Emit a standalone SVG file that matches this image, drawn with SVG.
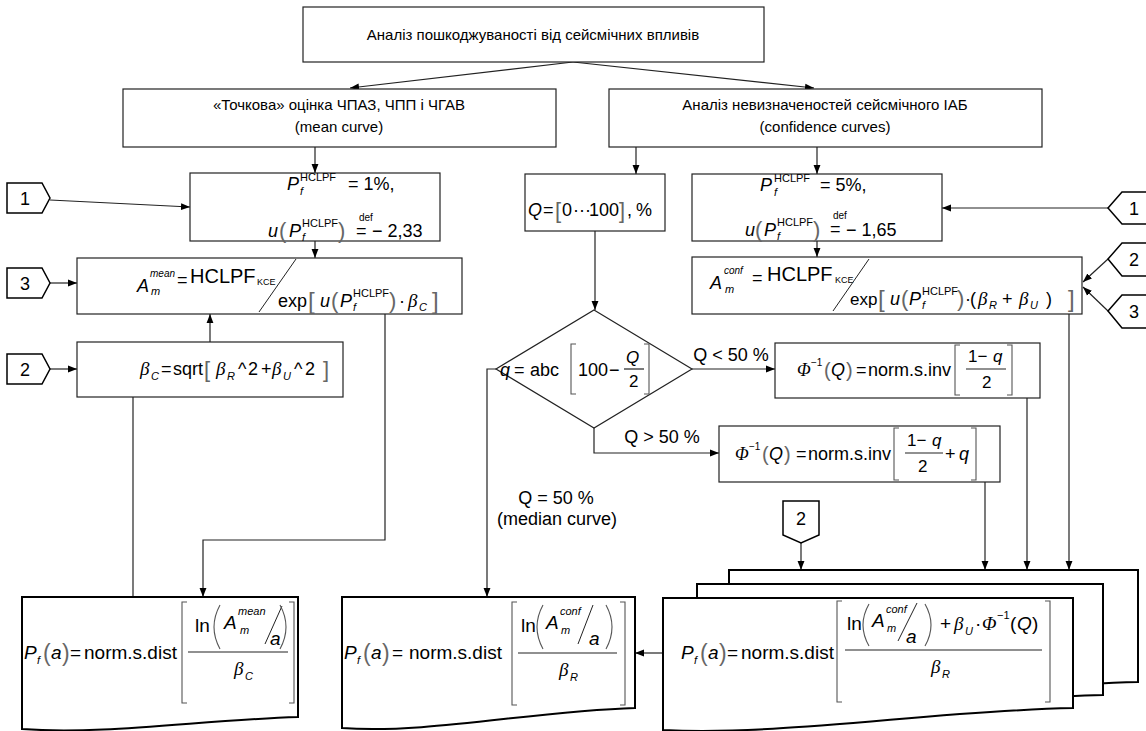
<svg xmlns="http://www.w3.org/2000/svg" width="1146" height="731" viewBox="0 0 1146 731">
<style>
text{font-family:"Liberation Sans",Arial,sans-serif;fill:#000}
.t{font-size:15px}
.lb{font-size:18px}
.m{font-size:18px}
.i{font-style:italic}
.g{font-family:"Liberation Serif","Times New Roman",serif;font-style:italic}
.s{font-size:11px}
.pg{fill:#666}
.box{fill:#fff;stroke:#222;stroke-width:1.2}
.doc{fill:#fff;stroke:#000;stroke-width:2}
.pent{fill:#fff;stroke:#000;stroke-width:1.5}
.cn{fill:none;stroke:#222;stroke-width:1.2}
.br{fill:none;stroke:#555;stroke-width:1.1}
.sl{fill:none;stroke:#222;stroke-width:1}
.fb{stroke:#222;stroke-width:1.2}
</style>
<defs>
<marker id="ah" viewBox="0 0 10 10" refX="10" refY="5" markerWidth="9" markerHeight="9" markerUnits="userSpaceOnUse" orient="auto"><path d="M0,1.2 L10,5 L0,8.8 Z" fill="#000"/></marker>
</defs>

<g id="connectors">
<path class="cn" d="M573,62 L350,88" marker-end="url(#ah)"/>
<path class="cn" d="M573,62 L814,88" marker-end="url(#ah)"/>
<path class="cn" d="M315,147 V173" marker-end="url(#ah)"/>
<path class="cn" d="M315,241 V258" marker-end="url(#ah)"/>
<path class="cn" d="M210,342 V314" marker-end="url(#ah)"/>
<path class="cn" d="M50,200 L190,207" marker-end="url(#ah)"/>
<path class="cn" d="M50,283 H77" marker-end="url(#ah)"/>
<path class="cn" d="M50,369 H77" marker-end="url(#ah)"/>
<path class="cn" d="M385,314 V540 H203 V597" marker-end="url(#ah)"/>
<path class="cn" d="M133,397 V597"/>
<path class="cn" d="M636,147 V174" marker-end="url(#ah)"/>
<path class="cn" d="M817,147 V174" marker-end="url(#ah)"/>
<path class="cn" d="M817,241 V257" marker-end="url(#ah)"/>
<path class="cn" d="M1108,208 H942" marker-end="url(#ah)"/>
<path class="cn" d="M1108,259 L1083,282" marker-end="url(#ah)"/>
<path class="cn" d="M1108,311 L1083,287" marker-end="url(#ah)"/>
<path class="cn" d="M595,231 V310" marker-end="url(#ah)"/>
<path class="cn" d="M692,369 H775" marker-end="url(#ah)"/>
<path class="cn" d="M594,428 V453 H719" marker-end="url(#ah)"/>
<path class="cn" d="M496,369 H487 V597" marker-end="url(#ah)"/>
<path class="cn" d="M801,543 V570" marker-end="url(#ah)"/>
<path class="cn" d="M985,482 V570" marker-end="url(#ah)"/>
<path class="cn" d="M1027,398 V570" marker-end="url(#ah)"/>
<path class="cn" d="M1069,314 V570" marker-end="url(#ah)"/>
<path class="cn" d="M663,653 H635" marker-end="url(#ah)"/>
</g>

<g id="title">
<rect class="box" x="303" y="7" width="461" height="55"/>
<text class="t" x="533" y="40" text-anchor="middle">Аналіз пошкоджуваності від сейсмічних впливів</text>
</g>

<g id="mean-curve">
<rect class="box" x="123" y="89" width="433" height="58"/>
<text class="t" x="339" y="110" text-anchor="middle">«Точкова» оцінка ЧПАЗ, ЧПП і ЧГАВ</text>
<text class="t" x="339" y="132" text-anchor="middle">(mean curve)</text>
</g>

<g id="confidence-curves">
<rect class="box" x="609" y="89" width="433" height="58"/>
<text class="t" x="825" y="110" text-anchor="middle">Аналіз невизначеностей сейсмічного ІАБ</text>
<text class="t" x="825" y="132" text-anchor="middle">(confidence curves)</text>
</g>

<g id="pf-1">
<rect class="box" x="190" y="173" width="250" height="68"/>
<text class="m"><tspan class="i" x="287" y="190">P</tspan><tspan class="s" x="300" y="181">HCLPF</tspan><tspan class="s i" x="300" y="195">f</tspan><tspan x="348" y="190">= 1%,</tspan></text>
<text class="m"><tspan class="i" x="268" y="237">u</tspan><tspan class="pg" font-size="22" x="279" y="238">(</tspan><tspan class="i" x="289" y="237">P</tspan><tspan class="s" x="302" y="227">HCLPF</tspan><tspan class="s i" x="302" y="241">f</tspan><tspan class="pg" font-size="22" x="338" y="238">)</tspan><tspan font-size="10" x="359" y="221">def</tspan><tspan x="356" y="237">=</tspan><tspan x="372" y="237">− 2,33</tspan></text>
</g>

<g id="amean">
<rect class="box" x="77" y="258" width="385" height="56"/>
<text class="m"><tspan class="i" x="137" y="292">A</tspan><tspan font-size="10" class="i" x="150" y="277">mean</tspan><tspan class="s i" x="151" y="295">m</tspan><tspan x="177" y="286">=</tspan><tspan font-size="20" x="190" y="283">HCLPF</tspan><tspan font-size="9" x="257" y="285">KCE</tspan></text>
<path class="sl" d="M296,259 L259,312"/>
<text class="m"><tspan x="278" y="307">exp</tspan><tspan class="pg" font-size="24" x="308" y="309">[</tspan><tspan class="i" x="320" y="307">u</tspan><tspan class="pg" font-size="22" x="331" y="308">(</tspan><tspan class="i" x="340" y="307">P</tspan><tspan class="s" x="353" y="297">HCLPF</tspan><tspan class="s i" x="353" y="311">f</tspan><tspan class="pg" font-size="22" x="389" y="308">)</tspan><tspan x="399" y="307">·</tspan><tspan class="g" font-size="19" x="408" y="307">β</tspan><tspan class="s i" x="419" y="311">C</tspan><tspan class="pg" font-size="24" x="432" y="309">]</tspan></text>
</g>

<g id="beta-c">
<rect class="box" x="77" y="342" width="266" height="55"/>
<text class="m"><tspan class="g" font-size="19" x="140" y="375">β</tspan><tspan class="s i" x="151" y="380">C</tspan><tspan x="161" y="375">=</tspan><tspan x="173" y="375">sqrt</tspan><tspan class="pg" font-size="22" x="204" y="377">[</tspan><tspan class="g" font-size="19" x="216" y="375">β</tspan><tspan class="s i" x="227" y="380">R</tspan><tspan x="238" y="375">^</tspan><tspan x="248" y="375">2</tspan><tspan x="261" y="375">+</tspan><tspan class="g" font-size="19" x="272" y="375">β</tspan><tspan class="s i" x="283" y="380">U</tspan><tspan x="294" y="375">^</tspan><tspan x="305" y="375">2</tspan><tspan class="pg" font-size="22" x="323" y="377">]</tspan></text>
</g>

<g id="q-range">
<rect class="box" x="525" y="174" width="140" height="57"/>
<text font-size="18"><tspan class="i" x="528" y="216">Q</tspan><tspan x="543" y="216">=</tspan><tspan class="pg" font-size="22" x="555" y="218">[</tspan><tspan x="562" y="216">0</tspan><tspan x="573" y="216">···</tspan><tspan x="589" y="216">100</tspan><tspan class="pg" font-size="22" x="619" y="218">]</tspan><tspan x="627" y="216">,</tspan><tspan x="636" y="216">%</tspan></text>
</g>

<g id="decision">
<path class="box" d="M594,310 L692,369 L594,428 L496,369 Z"/>
<text class="m"><tspan class="i" x="500" y="376">q</tspan><tspan x="514" y="376">=</tspan><tspan x="530" y="376">abc</tspan><tspan x="578" y="376">100</tspan><tspan x="609" y="376">−</tspan><tspan class="i" font-size="17" x="626" y="363">Q</tspan><tspan font-size="17" x="629" y="387">2</tspan></text>
<path class="br" d="M576,344 H571 V394 H576 M644,344 H649 V394 H644"/>
<path class="fb" d="M624,369 H644"/>
</g>

<g id="phi-lt50">
<rect class="box" x="775" y="343" width="265" height="55"/>
<text class="m"><tspan class="g" x="797" y="376">Φ</tspan><tspan font-size="10" x="811" y="366">−1</tspan><tspan class="pg" font-size="20" x="824" y="377">(</tspan><tspan class="i" x="831" y="376">Q</tspan><tspan class="pg" font-size="20" x="846" y="377">)</tspan><tspan x="856" y="376">=</tspan><tspan x="868" y="376">norm.s.inv</tspan><tspan font-size="17" x="968" y="362">1−</tspan><tspan class="i" font-size="17" x="993" y="362">q</tspan><tspan font-size="17" x="982" y="388">2</tspan></text>
<path class="br" d="M960,345 H955 V395 H960 M1007,345 H1012 V395 H1007"/>
<path class="fb" d="M966,369 H1006"/>
</g>

<g id="phi-gt50">
<rect class="box" x="719" y="426" width="281" height="56"/>
<text class="m"><tspan class="g" x="735" y="460">Φ</tspan><tspan font-size="10" x="749" y="450">−1</tspan><tspan class="pg" font-size="20" x="762" y="461">(</tspan><tspan class="i" x="769" y="460">Q</tspan><tspan class="pg" font-size="20" x="784" y="461">)</tspan><tspan x="796" y="460">=</tspan><tspan x="808" y="460">norm.s.inv</tspan><tspan font-size="17" x="907" y="446">1−</tspan><tspan class="i" font-size="17" x="932" y="446">q</tspan><tspan font-size="17" x="918" y="472">2</tspan><tspan x="945" y="460">+</tspan><tspan class="i" x="959" y="460">q</tspan></text>
<path class="br" d="M899,428 H894 V480 H899 M971,428 H976 V480 H971"/>
<path class="fb" d="M905,453 H943"/>
</g>

<g id="pf-5">
<rect class="box" x="692" y="174" width="250" height="67"/>
<text class="m"><tspan class="i" x="760" y="191">P</tspan><tspan class="s" x="774" y="182">HCLPF</tspan><tspan class="s i" x="774" y="196">f</tspan><tspan x="820" y="191">= 5%,</tspan></text>
<text class="m"><tspan class="i" x="745" y="236">u</tspan><tspan class="pg" font-size="22" x="755" y="237">(</tspan><tspan class="i" x="764" y="236">P</tspan><tspan class="s" x="777" y="226">HCLPF</tspan><tspan class="s i" x="777" y="240">f</tspan><tspan class="pg" font-size="22" x="813" y="237">)</tspan><tspan font-size="10" x="833" y="219">def</tspan><tspan x="830" y="235">=</tspan><tspan x="846" y="236">− 1,65</tspan></text>
</g>

<g id="aconf">
<rect class="box" x="692" y="257" width="390" height="57"/>
<text class="m"><tspan class="i" x="710" y="289">A</tspan><tspan font-size="10" class="i" x="724" y="274">conf</tspan><tspan class="s i" x="725" y="293">m</tspan><tspan x="752" y="284">=</tspan><tspan font-size="20" x="767" y="281">HCLPF</tspan><tspan font-size="9" x="835" y="283">KCE</tspan></text>
<path class="sl" d="M869,259 L833,311"/>
<text class="m"><tspan font-size="17" x="850" y="305">exp</tspan><tspan class="pg" font-size="24" x="878" y="307">[</tspan><tspan class="i" x="890" y="305">u</tspan><tspan class="pg" font-size="22" x="901" y="306">(</tspan><tspan class="i" x="909" y="305">P</tspan><tspan class="s" x="922" y="295">HCLPF</tspan><tspan class="s i" x="922" y="309">f</tspan><tspan class="pg" font-size="22" x="957" y="306">)</tspan><tspan x="965" y="305">·</tspan><tspan x="970" y="305">(</tspan><tspan class="g" font-size="19" x="978" y="305">β</tspan><tspan class="s i" x="989" y="309">R</tspan><tspan x="1002" y="305">+</tspan><tspan class="g" font-size="19" x="1019" y="305">β</tspan><tspan class="s i" x="1030" y="309">U</tspan><tspan x="1046" y="305">)</tspan><tspan class="pg" font-size="24" x="1068" y="307">]</tspan></text>
</g>

<g id="ref-1-left"><path class="pent" d="M7,183 H42 L50,198 L42,213 H7 Z"/><text class="lb" x="25" y="205" text-anchor="middle">1</text></g>
<g id="ref-3-left"><path class="pent" d="M7,268 H42 L50,283 L42,298 H7 Z"/><text class="lb" x="25" y="290" text-anchor="middle">3</text></g>
<g id="ref-2-left"><path class="pent" d="M7,354 H42 L50,369 L42,384 H7 Z"/><text class="lb" x="25" y="376" text-anchor="middle">2</text></g>
<g id="ref-1-right"><path class="pent" d="M1108,208 L1122,192 H1150 V224 H1122 Z"/><text class="lb" x="1134" y="215" text-anchor="middle">1</text></g>
<g id="ref-2-right"><path class="pent" d="M1108,259 L1122,243 H1150 V276 H1122 Z"/><text class="lb" x="1134" y="266" text-anchor="middle">2</text></g>
<g id="ref-3-right"><path class="pent" d="M1108,311 L1122,295 H1150 V328 H1122 Z"/><text class="lb" x="1134" y="318" text-anchor="middle">3</text></g>
<g id="ref-2-mid"><path class="pent" d="M783,501 H819 V535 L801,543 L783,535 Z"/><text class="lb" x="801" y="525" text-anchor="middle">2</text></g>

<g id="labels">
<text class="lb" x="731" y="361" text-anchor="middle">Q &lt; 50 %</text>
<text class="lb" x="662" y="443" text-anchor="middle">Q &gt; 50 %</text>
<text class="lb" x="556" y="504" text-anchor="middle">Q = 50 %</text>
<text class="lb" x="557" y="525" text-anchor="middle">(median curve)</text>
</g>

<g id="fragility-mean">
<path class="doc" d="M22,597 H298 V717 C 201,720 105,735 22,729 Z"/>
<text font-size="19"><tspan class="i" x="24" y="659">P</tspan><tspan class="s i" x="37" y="664">f</tspan><tspan class="pg" font-size="23" x="43" y="661">(</tspan><tspan class="i" x="51" y="659">a</tspan><tspan class="pg" font-size="23" x="62" y="661">)</tspan><tspan x="70" y="659">=</tspan><tspan x="84" y="659">norm.s.dist</tspan></text>
<path class="br" d="M187,602 H182 V703 H187 M289,602 H294 V703 H289"/>
<path class="fb" d="M188,652 H288"/>
<text font-size="19"><tspan x="195" y="632">ln</tspan><tspan class="i" x="224" y="629">A</tspan><tspan class="s i" x="238" y="615">mean</tspan><tspan class="s i" x="240" y="634">m</tspan><tspan class="i" x="270" y="645">a</tspan><tspan class="g" x="234" y="675">β</tspan><tspan class="s i" x="245" y="680">C</tspan></text>
<path class="sl" d="M265,644 L282,606"/>
<path class="br" d="M220,605 Q208,627 220,649 M280,605 Q292,627 280,649"/>
</g>

<g id="fragility-median">
<path class="doc" d="M342,597 H635 V708 C 532,711 430,734 342,728 Z"/>
<text font-size="19"><tspan class="i" x="344" y="659">P</tspan><tspan class="s i" x="357" y="664">f</tspan><tspan class="pg" font-size="23" x="363" y="661">(</tspan><tspan class="i" x="371" y="659">a</tspan><tspan class="pg" font-size="23" x="382" y="661">)</tspan><tspan x="392" y="659">=</tspan><tspan x="409" y="659">norm.s.dist</tspan></text>
<path class="br" d="M517,602 H512 V705 H517 M620,602 H625 V705 H620"/>
<path class="fb" d="M518,653 H617"/>
<text font-size="19"><tspan x="521" y="632">ln</tspan><tspan class="i" x="546" y="629">A</tspan><tspan class="s i" x="560" y="615">conf</tspan><tspan class="s i" x="561" y="634">m</tspan><tspan class="i" x="589" y="645">a</tspan><tspan class="g" x="559" y="676">β</tspan><tspan class="s i" x="570" y="681">R</tspan></text>
<path class="sl" d="M578,644 L593,605"/>
<path class="br" d="M543,605 Q531,627 543,649 M606,605 Q618,627 606,649"/>
</g>

<g id="fragility-confidence">
<path class="doc" d="M729,570 H1138 V682 C 995,685 852,710 729,704 Z"/>
<path class="doc" d="M697,584 H1103 V695 C 961,698 819,723 697,717 Z"/>
<path class="doc" d="M663,598 H1073 V708 C 930,711 786,736 663,730 Z"/>
<text font-size="19"><tspan class="i" x="681" y="659">P</tspan><tspan class="s i" x="694" y="664">f</tspan><tspan class="pg" font-size="23" x="700" y="661">(</tspan><tspan class="i" x="708" y="659">a</tspan><tspan class="pg" font-size="23" x="719" y="661">)</tspan><tspan x="727" y="659">=</tspan><tspan x="741" y="659">norm.s.dist</tspan></text>
<path class="br" d="M842,601 H837 V702 H842 M1045,601 H1050 V702 H1045"/>
<path class="fb" d="M845,650 H1042"/>
<text font-size="19"><tspan x="847" y="630">ln</tspan><tspan class="i" x="872" y="627">A</tspan><tspan class="s i" x="886" y="613">conf</tspan><tspan class="s i" x="887" y="632">m</tspan><tspan class="i" x="906" y="643">a</tspan><tspan x="940" y="630">+</tspan><tspan class="g" x="954" y="630">β</tspan><tspan class="s i" x="965" y="635">U</tspan><tspan x="975" y="630">·</tspan><tspan class="g" x="982" y="630">Φ</tspan><tspan font-size="11" x="997" y="619">−1</tspan><tspan x="1010" y="630">(</tspan><tspan class="i" x="1017" y="630">Q</tspan><tspan x="1032" y="630">)</tspan><tspan class="g" x="931" y="673">β</tspan><tspan class="s i" x="942" y="678">R</tspan></text>
<path class="sl" d="M898,641 L917,603"/>
<path class="br" d="M869,604 Q857,625 869,646 M925,604 Q937,625 925,646"/>
</g>
</svg>
